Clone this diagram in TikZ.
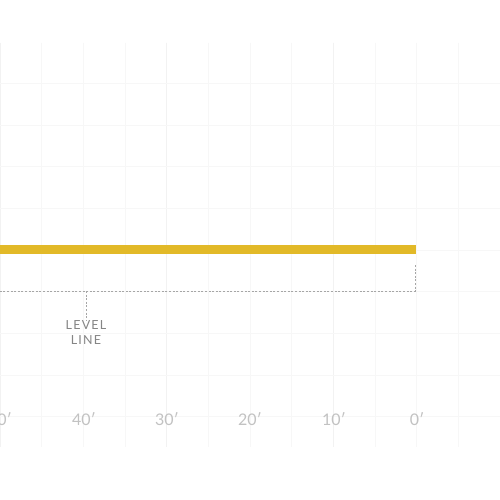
\documentclass[tikz,border=0pt]{standalone}
\usepackage{fontspec}
\setmainfont{Lato}
\begin{document}
\begin{tikzpicture}[x=1pt,y=-1pt,
  gridline/.style={draw=black!3,line width=0.8pt},
  majorline/.style={draw=black!5,line width=1pt},
  axislabel/.style={text=black!24,font=\fontsize{16}{16}\selectfont,inner sep=0pt,anchor=center},
  levellabel/.style={text=black!48,font=\fontsize{12.5}{15}\selectfont\addfontfeatures{LetterSpace=10},align=center,inner sep=0pt,anchor=north},
  leveldots/.style={draw=black!35,line width=0.8pt,dash pattern=on 2pt off 1.6pt},
  bar/.style={draw=none,fill={rgb,255:red,226;green,185;blue,40}}]
\useasboundingbox (0,0) rectangle (500,500);
\clip (0,0) rectangle (500,500);
\fill[white] (0,0) rectangle (500,500);
% grid
\foreach \i in {1,...,11} {
  \draw[gridline] ({\i*500/12},43) -- ({\i*500/12},447);
}
\foreach \i in {0,4,8,12} {
  \draw[majorline] ({\i*500/12},43) -- ({\i*500/12},447);
}
\foreach \j in {2,...,10} {
  \draw[gridline] (0,{\j*500/12}) -- (500,{\j*500/12});
}
% bar
\fill[bar] (-5,245) rectangle (416,254);
% level line
\coordinate (c1) at (415,265);
\coordinate (c2) at (415,291);
\coordinate (c3) at (-5,291);
\coordinate (c4) at (86,291);
\node[levellabel] (lvl) at (86,320) {LEVEL\\LINE};
\draw[leveldots] (c1) -- (c2) -- (c3);
\draw[leveldots] (c4) -- (lvl.north);
% axis labels
\node[axislabel] (l50) at (0,419) {50′};
\node[axislabel] (l40) at (84,419) {40′};
\node[axislabel] (l30) at (167,419) {30′};
\node[axislabel] (l20) at (250,419) {20′};
\node[axislabel] (l10) at (334,419) {10′};
\node[axislabel] (l0) at (417,419) {0′};
\end{tikzpicture}
\end{document}
